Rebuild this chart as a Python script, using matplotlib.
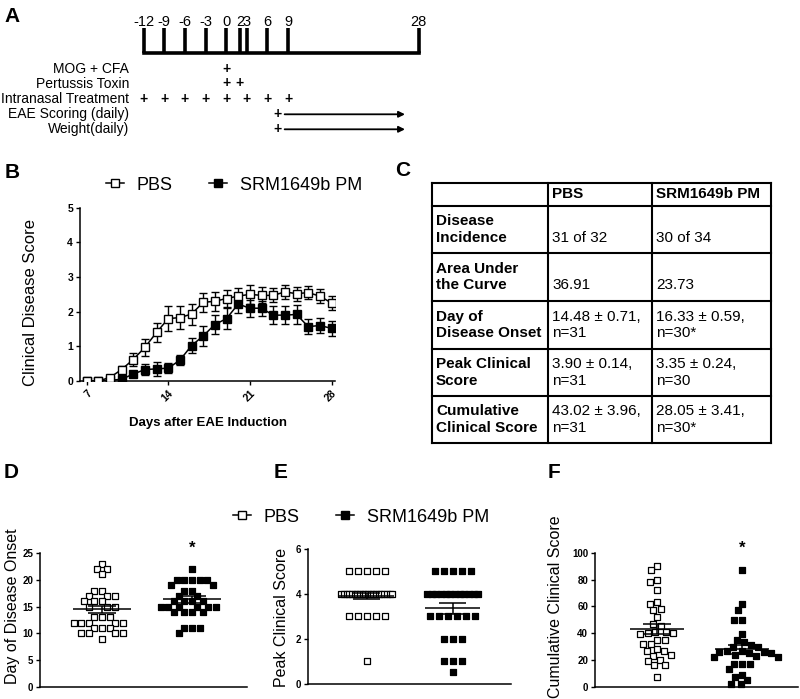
import matplotlib

matplotlib.use("Agg")
import matplotlib.pyplot as plt
import numpy as np
from matplotlib.lines import Line2D

plt.rcParams["font.family"] = ["Liberation Sans", "DejaVu Sans"]

# ---- panel A: protocol timeline ----
timeline_days = [-12, -9, -6, -3, 0, 2, 3, 6, 9, 28]
schedule_labels = ["MOG + CFA", "Pertussis Toxin", "Intranasal Treatment",
                   "EAE Scoring (daily)", "Weight(daily)"]
schedule_days = [[0], [0, 2], [-12, -9, -6, -3, 0, 3, 6, 9], [7.5], [7.5]]
daily_from = [None, None, None, 8.5, 8.5]
daily_to = [None, None, None, 26, 26]

# ---- panel B: clinical score time course ----
days = [7, 8, 9, 10, 11, 12, 13, 14, 15, 16, 17, 18, 19, 20, 21, 22, 23, 24, 25, 26, 27, 28]
pbs_score = [0, 0, 0.1, 0.33, 0.62, 0.97, 1.4, 1.8, 1.83, 1.93, 2.27, 2.3, 2.38, 2.45,
             2.5, 2.47, 2.47, 2.57, 2.52, 2.55, 2.45, 2.25]
pbs_err = [0, 0, 0.05, 0.1, 0.2, 0.25, 0.28, 0.35, 0.33, 0.3, 0.28, 0.27, 0.25, 0.22,
           0.27, 0.23, 0.2, 0.2, 0.2, 0.18, 0.2, 0.2]
srm_score = [0, 0, 0.02, 0.05, 0.2, 0.33, 0.35, 0.37, 0.6, 1.02, 1.3, 1.63, 1.8, 2.22,
             2.1, 2.1, 1.9, 1.9, 1.92, 1.57, 1.6, 1.52]
srm_err = [0, 0, 0, 0.03, 0.08, 0.15, 0.2, 0.15, 0.15, 0.22, 0.28, 0.28, 0.3, 0.25,
           0.25, 0.22, 0.25, 0.25, 0.27, 0.22, 0.22, 0.22]
day_ticks = [7, 14, 21, 28]

# ---- panel C: summary table ----
groups = ["PBS", "SRM1649b PM"]
row_names = ["Disease\nIncidence", "Area Under\nthe Curve", "Day of\nDisease Onset",
             "Peak Clinical\nScore", "Cumulative\nClinical Score"]
incidence = ["31 of 32", "30 of 34"]
auc = [36.91, 23.73]
n_sick = [31, 30]
onset_mean = [14.48, 16.33]
onset_sem = [0.71, 0.59]
peak_mean = [3.90, 3.35]
peak_sem = [0.14, 0.24]
cum_mean = [43.02, 28.05]
cum_sem = [3.96, 3.41]
onset_sig = [False, True]
cum_sig = [False, True]

# ---- panels D-F: individual animals ----
onset_pbs = [23, 22, 22, 21, 18, 18, 17, 17, 17, 16, 16, 16, 15, 15, 15, 13, 13, 13,
             12, 12, 12, 12, 12, 11, 11, 11, 10, 10, 10, 10, 9]
onset_srm = [22, 20, 20, 20, 20, 20, 19, 19, 18, 18, 17, 17, 16, 16, 16, 16,
             15, 15, 15, 15, 15, 15, 14, 14, 14, 14, 11, 11, 11, 10]
peak_pbs = [5, 5, 5, 5, 5, 4, 4, 4, 4, 4, 4, 4, 4, 4, 4, 4, 4, 4, 4, 4, 4, 4, 4, 4, 4,
            3, 3, 3, 3, 3, 1]
peak_srm = [5, 5, 5, 5, 5, 4, 4, 4, 4, 4, 4, 4, 4, 4, 4, 4, 4, 3, 3, 3, 3, 3, 3,
            2, 2, 2, 1, 1, 1, 0.5]
cum_pbs = [90, 87, 80, 78, 72, 63, 62, 58, 57, 52, 47, 45, 41, 41, 40, 40, 39, 35, 35,
           32, 32, 28, 27, 27, 24, 23, 20, 19, 16, 16, 7]
cum_srm = [87, 62, 57, 50, 50, 39, 35, 33, 31, 30, 30, 27, 27, 26, 26, 25, 25, 24, 23,
           22, 22, 17, 17, 17, 13, 9, 7, 5, 2, 2]

W, H = 800, 699
fig = plt.figure(figsize=(W / 100, H / 100), dpi=100)
fig.patch.set_facecolor("white")


def rect(left, top, right, bottom):
    return [left / W, 1 - bottom / H, (right - left) / W, (bottom - top) / H]


over = fig.add_axes([0, 0, 1, 1])
over.set_xlim(0, W)
over.set_ylim(H, 0)
over.axis("off")
over.patch.set_visible(False)

for letter, x, y in [("A", 12, 16), ("B", 12, 172), ("C", 403, 170),
                     ("D", 11, 473), ("E", 281, 473), ("F", 554, 472)]:
    over.text(x, y, letter, fontsize=15, fontweight="bold", ha="center", va="center")

# ---- A ----
axA = fig.add_axes(rect(0, 0, 450, 150))
axA.set_xlim(-32.9, 32.55)
axA.set_ylim(150, 0)
axA.axis("off")
axA.plot([timeline_days[0], timeline_days[-1]], [53.3, 53.3], color="black", lw=2.6,
         solid_capstyle="projecting")
for d in timeline_days:
    axA.plot([d, d], [28, 53.3], color="black", lw=2.6, solid_capstyle="butt")
    axA.text(d, 21.5, str(d), fontsize=10.5, ha="center", va="center")
row_y = [69, 83.5, 98.7, 114.3, 129.3]
for label, marks, y, a0, a1 in zip(schedule_labels, schedule_days, row_y, daily_from, daily_to):
    axA.text(-14.1, y, label, fontsize=10, ha="right", va="center")
    for d in marks:
        axA.text(d, y, "+", fontsize=10, fontweight="bold", ha="center", va="center")
    if a0 is not None:
        axA.annotate("", xy=(a1, y), xytext=(a0, y),
                     arrowprops=dict(arrowstyle="-|>", color="black", lw=1.3,
                                     mutation_scale=9, shrinkA=0, shrinkB=0))

# ---- B ----
axB = fig.add_axes(rect(80, 207.7, 335, 381))
axB.errorbar(days, srm_score, yerr=srm_err, color="black", lw=1.1, marker="s", ms=5.8,
             mfc="black", mec="black", mew=1, capsize=3, elinewidth=1, capthick=1, zorder=2)
axB.errorbar(days, pbs_score, yerr=pbs_err, color="black", lw=1.1, marker="s", ms=5.8,
             mfc="white", mec="black", mew=1, capsize=3, elinewidth=1, capthick=1, zorder=3)
axB.set_xlim(6.44, 28.3)
axB.set_ylim(0, 5)
axB.set_yticks([0, 1, 2, 3, 4, 5])
axB.set_xticks(day_ticks)
for lab in axB.get_xticklabels():
    lab.set_rotation(45)
    lab.set_ha("right")
    lab.set_rotation_mode("anchor")


def prism_axes(ax):
    ax.spines[["top", "right"]].set_visible(False)
    for s in ("left", "bottom"):
        ax.spines[s].set_linewidth(1.1)
    ax.tick_params(direction="out", length=3, width=1, labelsize=7.5, pad=2)
    for lab in ax.get_xticklabels() + ax.get_yticklabels():
        lab.set_fontweight("bold")


prism_axes(axB)
over.text(31, 303, "Clinical Disease Score", fontsize=12, rotation=90, ha="center", va="center")
over.text(208, 423, "Days after EAE Induction", fontsize=9.5, fontweight="bold",
          ha="center", va="center")

pbs_handle = Line2D([], [], color="black", lw=1.1, marker="s", ms=5.8, mfc="white", mec="black", mew=1)
srm_handle = Line2D([], [], color="black", lw=1.1, marker="s", ms=5.8, mfc="black", mec="black", mew=1)
for lx, ly in [(97, 185), (224, 517)]:
    fig.legend([pbs_handle, srm_handle], groups, loc="center left",
               bbox_to_anchor=(lx / W, 1 - ly / H), ncol=2, frameon=False, fontsize=13,
               handlelength=1.0, handletextpad=0.7, columnspacing=2.0, borderpad=0)

# ---- C ----
col_edges = [432, 548, 652, 771]
row_edges = [183, 206, 253, 301, 349, 396, 443]
for x in col_edges:
    over.plot([x, x], [row_edges[0], row_edges[-1]], color="black", lw=1.5)
for y in row_edges:
    over.plot([col_edges[0], col_edges[-1]], [y, y], color="black", lw=1.5)


def star(flag):
    return "*" if flag else ""


cells = []
for g in range(2):
    cells.append([
        "\n" + incidence[g],
        "\n" + f"{auc[g]:.2f}",
        f"{onset_mean[g]:.2f} \u00b1 {onset_sem[g]:.2f},\nn={n_sick[g]}{star(onset_sig[g])}",
        f"{peak_mean[g]:.2f} \u00b1 {peak_sem[g]:.2f},\nn={n_sick[g]}",
        f"{cum_mean[g]:.2f} \u00b1 {cum_sem[g]:.2f},\nn={n_sick[g]}{star(cum_sig[g])}",
    ])
for g, name in enumerate(groups):
    over.text(col_edges[g + 1] + 4, (row_edges[0] + row_edges[1]) / 2, name,
              fontsize=11, fontweight="bold", ha="left", va="center")
for r, name in enumerate(row_names):
    yc = (row_edges[r + 1] + row_edges[r + 2]) / 2
    over.text(col_edges[0] + 4, yc, name, fontsize=11, fontweight="bold",
              ha="left", va="center", linespacing=1.25)
    for g in range(2):
        over.text(col_edges[g + 1] + 4, yc, cells[g][r], fontsize=11,
                  ha="left", va="center", linespacing=1.25)


# ---- D-F ----
def swarm_offsets(values, y_ppu, d):
    # beeswarm in pixel space: each point goes as close to the centre as it can
    order = np.argsort(values, kind="stable")[::-1]
    placed = []
    offs = np.zeros(len(values))
    for i in order:
        y = values[i] * y_ppu
        near = [(x, yy - y) for x, yy in placed if abs(yy - y) < d - 1e-6]
        cands = [0.0]
        for x, dy in near:
            dx = np.sqrt(d * d - dy * dy)
            cands += [x - dx, x + dx]
        cands.sort(key=lambda c: (abs(c), c))
        for c in cands:
            if all((c - x) ** 2 + dy ** 2 >= d * d - 1e-6 for x, dy in near):
                break
        placed.append((c, y))
        offs[i] = c
    return offs


def row_offsets(values, step, max_span):
    values = np.asarray(values, dtype=float)
    offs = np.zeros(len(values))
    for v in np.unique(values):
        idx = np.where(values == v)[0]
        n = len(idx)
        if n > 1:
            sp = min(step, max_span / (n - 1))
            offs[idx] = (np.arange(n) - (n - 1) / 2) * sp
    return offs


def dot_panel(box, xlim, ylim, yticks, data, means, sems, layout, sig_y=None):
    ax = fig.add_axes(rect(*box))
    ax.set_xlim(*xlim)
    ax.set_ylim(*ylim)
    x_ppu = (box[2] - box[0]) / (xlim[1] - xlim[0])
    y_ppu = (box[3] - box[1]) / (ylim[1] - ylim[0])
    for g, vals in enumerate(data):
        if layout == "swarm":
            offs = swarm_offsets(np.asarray(vals, float), y_ppu, 7.6)
        else:
            offs = row_offsets(vals, 9.0, 51.0)
        face = "white" if g == 0 else "black"
        ax.scatter(g + offs / x_ppu, vals, marker="s", s=24, facecolor=face,
                   edgecolor="black", linewidth=0.9, zorder=2, clip_on=False)
        ax.hlines(means[g], g - 0.32, g + 0.32, color="black", lw=1.1, zorder=3)
        ax.hlines([means[g] - sems[g], means[g] + sems[g]], g - 0.16, g + 0.16,
                  color="black", lw=1.1, zorder=3)
        ax.vlines(g, means[g] - sems[g], means[g] + sems[g], color="black", lw=1.1, zorder=3)
    ax.set_yticks(yticks)
    ax.set_xticks([])
    prism_axes(ax)
    ax.tick_params(axis="y", labelsize=7)
    if sig_y is not None:
        ax.text(1, sig_y, "*", fontsize=12, fontweight="bold", ha="center", va="center",
                clip_on=False)
    return ax


dot_panel((40, 553, 247, 687), (-0.689, 1.611), (0, 25), [0, 5, 10, 15, 20, 25],
          [onset_pbs, onset_srm], onset_mean, onset_sem, "swarm", sig_y=25.8)
dot_panel((308, 549, 511, 683.5), (-0.683, 1.678), (0, 6), [0, 2, 4, 6],
          [peak_pbs, peak_srm], peak_mean, peak_sem, "rows")
dot_panel((595, 552.7, 798, 686.7), (-0.73, 1.66), (0, 100), [0, 20, 40, 60, 80, 100],
          [cum_pbs, cum_srm], cum_mean, cum_sem, "swarm", sig_y=103)

over.text(13, 606, "Day of Disease Onset", fontsize=11.5, rotation=90, ha="center", va="center")
over.text(281, 617, "Peak Clinical Score", fontsize=11.5, rotation=90, ha="center", va="center")
over.text(555, 607, "Cumulative Clinical Score", fontsize=11.5, rotation=90, ha="center", va="center")

fig.savefig("out.png", dpi=100)
